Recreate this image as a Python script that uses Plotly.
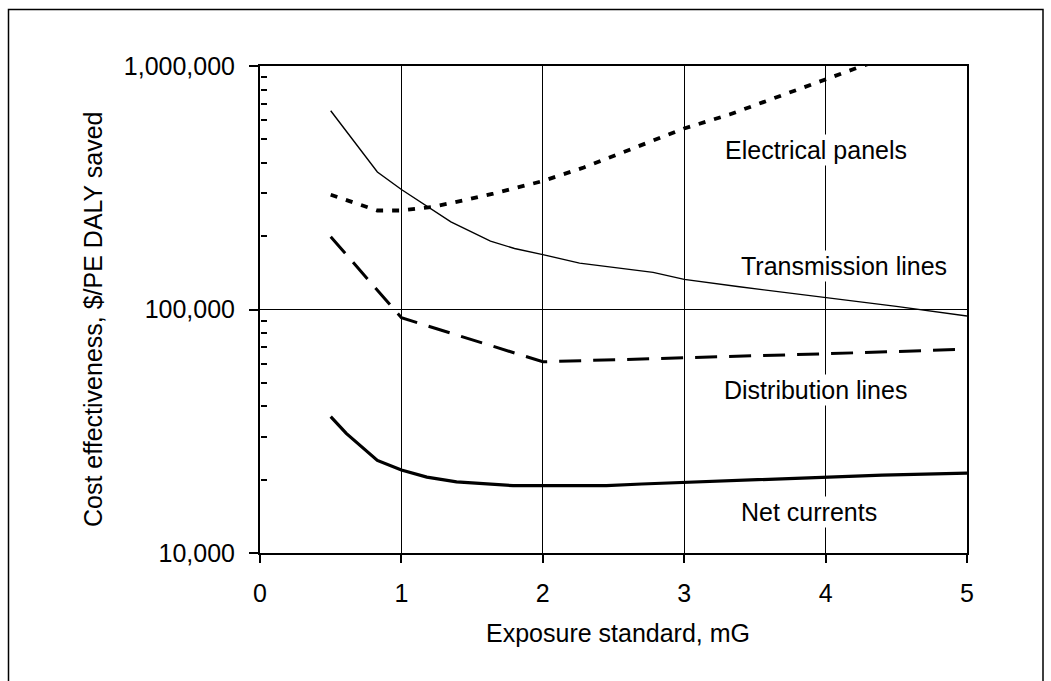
import math
import plotly.graph_objects as go

# ---- data ----
elec_x = [0.5, 0.83, 1.0, 1.22, 1.37, 1.65, 1.93, 2.0, 2.29, 2.66, 3.0, 3.32, 3.69, 4.0, 4.2, 4.5]
elec_y = [296000, 255000, 255000, 264000, 275000, 299000, 329000, 337000, 383000, 462000,
          554000, 632000, 760000, 885000, 972000, 1120000]

trans_x = [0.5, 0.83, 1.0, 1.35, 1.63, 1.8, 2.0, 2.26, 2.78, 3.0, 3.39, 4.0, 4.5, 5.0]
trans_y = [655000, 367000, 311000, 229000, 191000, 178000, 168000, 155000, 142000, 133000,
           124000, 112000, 103000, 94000]

dist_x = [0.5, 1.0, 2.0, 3.0, 4.0, 5.0]
dist_y = [199000, 92500, 61000, 63200, 65800, 68700]

net_x = [0.5, 0.61, 0.83, 1.0, 1.18, 1.39, 1.79, 2.0, 2.45, 2.7, 3.0, 3.5, 4.0, 4.4, 5.0]
net_y = [36300, 31000, 24000, 21900, 20500, 19600, 18900, 18900, 18900, 19200, 19500,
         19900, 20400, 20900, 21300]

series_labels = ["Electrical panels", "Transmission lines", "Distribution lines", "Net currents"]
label_x = [3.93, 4.13, 3.93, 3.88]
label_y = [452000, 151000, 46700, 14700]

x_ticks = [0, 1, 2, 3, 4, 5]
y_ticks = [10000, 100000, 1000000]
y_ticktext = ["10,000", "100,000", "1,000,000"]
y_minor = [m * 10 ** e for e in (4, 5) for m in range(2, 10)]

FONT = "Arial, Liberation Sans, sans-serif"
FS = 25

fig = go.Figure()
fig.add_trace(go.Scatter(x=elec_x, y=elec_y, mode="lines",
                         line=dict(color="black", width=3.8, dash="7px,9px")))
fig.add_trace(go.Scatter(x=trans_x, y=trans_y, mode="lines",
                         line=dict(color="black", width=1.4)))
fig.add_trace(go.Scatter(x=dist_x, y=dist_y, mode="lines",
                         line=dict(color="black", width=3, dash="22px,12px")))
fig.add_trace(go.Scatter(x=net_x, y=net_y, mode="lines",
                         line=dict(color="black", width=3.2)))
# empty trace so the minor-tick helper axis gets drawn
fig.add_trace(go.Scatter(x=[None], y=[None], yaxis="y2", mode="lines",
                         hoverinfo="skip", showlegend=False))

for t, lx, ly in zip(series_labels, label_x, label_y):
    fig.add_annotation(x=lx, y=math.log10(ly), yref="y", xref="x", text=t, showarrow=False,
                       font=dict(family=FONT, size=FS, color="black"),
                       bgcolor="white", xanchor="center", yanchor="middle")

# axis titles
fig.add_annotation(xref="paper", yref="paper", x=(93 - 260) / 707, y=1 - (319 - 66) / 487,
                   text="Cost effectiveness, $/PE DALY saved", textangle=-90,
                   showarrow=False, font=dict(family=FONT, size=FS, color="black"),
                   xanchor="center", yanchor="middle")
fig.add_annotation(xref="paper", yref="paper", x=(618 - 260) / 707, y=-(633 - 553) / 487,
                   text="Exposure standard, mG",
                   showarrow=False, font=dict(family=FONT, size=FS, color="black"),
                   xanchor="center", yanchor="middle")

fig.update_xaxes(range=[0, 5], tickvals=x_ticks, ticks="outside", ticklen=8,
                 tickwidth=1.5, tickcolor="black", showgrid=True, gridcolor="black",
                 gridwidth=1.2, showline=True, linecolor="black", linewidth=2,
                 mirror=True, zeroline=False, ticklabelstandoff=9,
                 tickfont=dict(family=FONT, size=FS, color="black"))
fig.update_yaxes(type="log", range=[4, 6], tickvals=y_ticks, ticktext=y_ticktext,
                 ticks="outside", ticklen=9, tickwidth=1.5, tickcolor="black",
                 showgrid=True, gridcolor="black", gridwidth=1.2,
                 showline=True, linecolor="black", linewidth=2, mirror=True,
                 zeroline=False, ticklabelstandoff=9,
                 tickfont=dict(family=FONT, size=FS, color="black"))

# minor ticks pointing into the plot: a right-sided helper axis placed at the left edge,
# whose "outside" ticks therefore point right (into the plot area)
fig.update_layout(yaxis2=dict(type="log", range=[4, 6], overlaying="y", side="right",
                              anchor="free", position=0, tickmode="array", tickvals=y_minor,
                              ticks="outside", ticklen=6,
                              tickwidth=1.5, tickcolor="black", showticklabels=False,
                              showgrid=False, zeroline=False, showline=False))

# outer frame
fig.add_shape(type="rect", xref="paper", yref="paper",
              x0=(8.5 - 260) / 707, x1=(1043 - 260) / 707,
              y0=-(700 - 553) / 487, y1=1 + (66 - 9.5) / 487,
              line=dict(color="black", width=1.5), layer="below")

fig.update_layout(width=1051, height=681, autosize=False,
                  margin=dict(l=260, r=84, t=66, b=128),
                  paper_bgcolor="white", plot_bgcolor="white",
                  showlegend=False, font=dict(family=FONT, color="black"))

fig.write_html("out.html")
